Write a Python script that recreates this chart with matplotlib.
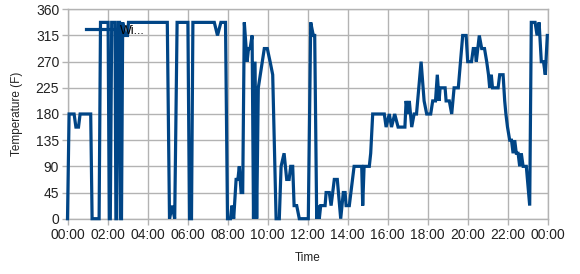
import matplotlib
matplotlib.use("Agg")
import matplotlib.pyplot as plt
from matplotlib.ticker import FixedLocator, FuncFormatter

plt.rcParams['font.family'] = ['Liberation Sans', 'DejaVu Sans']

# time of day in hours, temperature values
hours = [0.0, 0.08, 0.33, 0.42, 0.55, 0.63, 1.16, 1.23, 1.58, 1.65,
         2.03, 2.09, 2.14, 2.21, 2.375, 2.42, 2.46, 2.54, 2.6, 2.66, 2.7, 2.76, 2.88, 3.0, 3.05,
         4.99, 5.1, 5.23, 5.36, 5.48, 6.02, 6.1, 6.2, 6.27,
         7.34, 7.5, 7.67, 7.9, 8.0, 8.15, 8.22, 8.31, 8.43, 8.52, 8.59, 8.68, 8.76, 8.84,
         8.98, 9.05, 9.13, 9.23, 9.3, 9.375, 9.46, 9.54, 9.84, 9.99, 10.13, 10.26, 10.43,
         10.59, 10.68, 10.83, 10.96, 11.08, 11.16, 11.26, 11.33, 11.46, 11.59, 12.04,
         12.16, 12.29, 12.36, 12.46, 12.54, 12.59, 12.66, 12.88, 12.93, 13.09, 13.18,
         13.34, 13.49, 13.66, 13.79, 13.88, 13.93, 14.09, 14.33, 14.71, 14.76, 14.83,
         15.09, 15.16, 15.26, 15.84, 15.93, 16.09, 16.2, 16.36, 16.53, 16.87, 16.93,
         17.02, 17.09, 17.21, 17.33, 17.45, 17.68, 17.83, 17.96, 18.16, 18.26, 18.4,
         18.49, 18.58, 18.63, 18.88, 18.93, 19.09, 19.21, 19.33, 19.54, 19.76, 19.93,
         20.01, 20.2, 20.29, 20.38, 20.44, 20.59, 20.71, 20.85, 20.96, 21.05, 21.11,
         21.19, 21.25, 21.53, 21.61, 21.78, 21.86, 21.92, 22.0, 22.11, 22.2, 22.28,
         22.36, 22.44, 22.53, 22.61, 22.69, 22.78, 22.94, 23.11, 23.19, 23.38, 23.48,
         23.58, 23.69, 23.8, 23.89, 23.99]
temps = [0, 180, 180, 157.5, 157.5, 180, 180, 0, 0, 337.5,
         337.5, 0, 0, 337.5, 337.5, 0, 0, 337.5, 337.5, 0, 0, 337.5, 315, 315, 337.5,
         337.5, 0, 22.5, 0, 337.5, 337.5, 0, 0, 337.5,
         337.5, 315, 337.5, 337.5, 0, 0, 22.5, 0, 67.5, 67.5, 90, 45, 45, 337.5,
         270, 292.5, 292.5, 315, 0, 270, 0, 225, 292.5, 292.5, 270, 247.5, 0,
         0, 90, 112.5, 67.5, 67.5, 90, 90, 22.5, 22.5, 0, 0,
         337.5, 315, 315, 0, 22.5, 0, 22.5, 22.5, 45, 45, 22.5,
         67.5, 67.5, 0, 45, 45, 22.5, 22.5, 90, 90, 22.5, 90,
         90, 112.5, 180, 180, 157.5, 180, 157.5, 180, 157.5, 157.5, 202.5,
         180, 202.5, 157.5, 180, 180, 270, 202.5, 180, 180, 202.5, 202.5,
         247.5, 202.5, 225, 225, 202.5, 202.5, 180, 225, 225, 315, 315,
         270, 270, 292.5, 292.5, 270, 315, 292.5, 292.5, 270, 247.5, 225,
         247.5, 225, 225, 247.5, 247.5, 202.5, 180, 157.5, 135, 135, 112.5,
         135, 112.5, 112.5, 90, 112.5, 90, 90, 22.5, 337.5, 337.5, 315,
         337.5, 270, 270, 247.5, 315]

series_label = "Wi..."
y_ticks = [0, 45, 90, 135, 180, 225, 270, 315, 360]
x_ticks = list(range(0, 25, 2))

fig = plt.figure(figsize=(5.8, 2.74), dpi=100)
ax = fig.add_axes([67.5/580, 1 - 218.7/274, 480/580, 209.4/274])

grid_c = '#b3b3b3'
ax.plot(hours, temps, color='#004586', linewidth=2.3, label=series_label,
        solid_joinstyle='miter', zorder=3, clip_on=False)

ax.set_xlim(0, 24)
ax.set_ylim(0, 360)
ax.yaxis.set_major_locator(FixedLocator(y_ticks))
ax.xaxis.set_major_locator(FixedLocator(x_ticks))
ax.xaxis.set_major_formatter(FuncFormatter(lambda v, p: "%02d:00" % (int(round(v)) % 24)))
ax.grid(True, color=grid_c, linewidth=1.0)
ax.set_axisbelow(True)
for s in ax.spines.values():
    s.set_color(grid_c)
    s.set_linewidth(1.0)
ax.tick_params(axis='both', colors=grid_c, length=4, width=1.0, labelsize=10,
               labelcolor='#222222', pad=2)
ax.tick_params(axis='x', pad=3)

ax.set_xlabel("Time", fontsize=8.5, color='#222222', labelpad=7)
ax.set_ylabel("Temperature (F)", fontsize=8.5, color='#222222', labelpad=9)

leg = ax.legend(loc='center left', bbox_to_anchor=((86 - 67.5) / 480, (218.7 - 30.7) / 209.4),
                frameon=False, fontsize=9, handlelength=2.5, handletextpad=0.2,
                borderpad=0, borderaxespad=0)

fig.savefig("out.png", dpi=100)
